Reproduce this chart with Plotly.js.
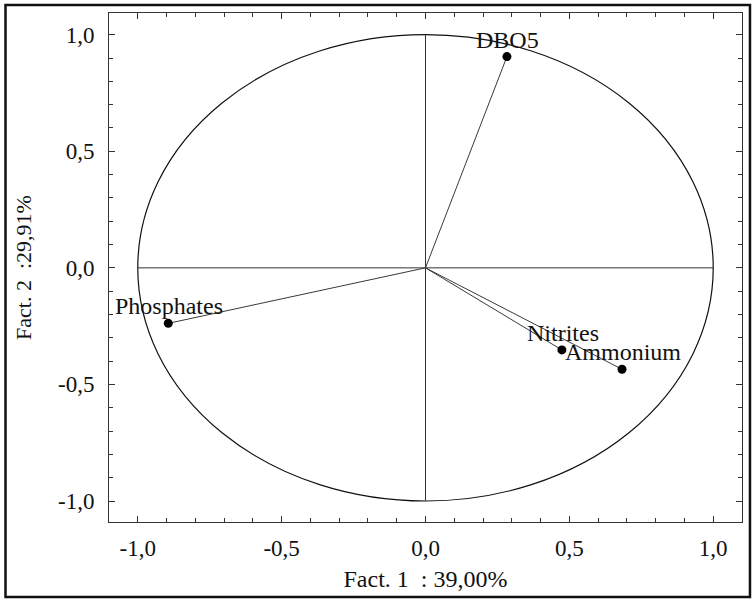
<!DOCTYPE html>
<html>
<head>
<meta charset="utf-8">
<script src="https://cdn.plot.ly/plotly-3.0.1.min.js"></script>
<style>
  html, body { margin: 0; padding: 0; background: #fff; }
  #chart { width: 755px; height: 602px; }
</style>
</head>
<body>
<div id="chart"></div>
<script>
// Variables of the correlation circle
var variables = ['DBO5', 'Phosphates', 'Nitrites', 'Ammonium'];
var fact1 = [0.283, -0.894, 0.474, 0.683];
var fact2 = [0.906, -0.238, -0.352, -0.435];

// Axis tick labels (comma decimal, hyphen minus)
var tickVals = [-1.0, -0.5, 0.0, 0.5, 1.0];
var tickText = ['-1,0', '-0,5', '0,0', '0,5', '1,0'];

var xTitle = 'Fact. 1\u00a0\u00a0: 39,00%';
var yTitle = 'Fact. 2\u00a0\u00a0:29,91%';

var serif = 'Liberation Serif, Times New Roman, serif';

// vectors from origin
var vx = [], vy = [];
for (var i = 0; i < variables.length; i++) {
  vx.push(0, fact1[i], null);
  vy.push(0, fact2[i], null);
}

var traces = [
  {
    x: vx, y: vy, mode: 'lines', type: 'scatter',
    line: {color: '#3a3a3a', width: 1},
    hoverinfo: 'skip', showlegend: false
  },
  {
    x: fact1, y: fact2, text: variables, mode: 'markers', type: 'scatter',
    marker: {color: '#000', size: 9},
    showlegend: false
  }
];

var labels = variables.map(function (name, i) {
  return {
    x: fact1[i], y: fact2[i], xref: 'x', yref: 'y',
    text: name, showarrow: false,
    xanchor: 'center', yanchor: 'bottom', yshift: 2, xshift: 1,
    font: {family: serif, size: 24, color: '#111'}
  };
});

var axisCommon = {
  tickmode: 'array',
  tickvals: tickVals,
  ticktext: tickText,
  ticks: 'inside',
  ticklen: 6,
  tickwidth: 1,
  tickcolor: '#333',
  minor: {dtick: 0.1, tick0: 0, ticks: 'inside', ticklen: 4, tickcolor: '#333', tickwidth: 1},
  showline: true,
  linecolor: '#333',
  linewidth: 1,
  mirror: 'ticks',
  showgrid: false,
  zeroline: false,
  tickfont: {family: serif, size: 23, color: '#111'},
  fixedrange: true
};

var layout = {
  width: 755, height: 602,
  margin: {l: 109, r: 13, t: 13, b: 80},
  paper_bgcolor: '#fff', plot_bgcolor: '#fff',
  xaxis: Object.assign({}, axisCommon, {
    range: [-1.1, 1.1],
    ticklabelstandoff: 5,
    title: {text: xTitle, font: {family: serif, size: 24, color: '#111'}, standoff: 10}
  }),
  yaxis: Object.assign({}, axisCommon, {
    range: [-1.09, 1.093],
    ticklabelstandoff: 9,
    title: {text: yTitle, font: {family: serif, size: 22, color: '#111'}, standoff: 20}
  }),
  annotations: labels,
  shapes: [
    {type: 'circle', xref: 'x', yref: 'y', x0: -1, x1: 1, y0: -1, y1: 1,
     line: {color: '#111', width: 1.2}},
    {type: 'line', xref: 'x', yref: 'y', x0: -1, x1: 1, y0: 0, y1: 0,
     line: {color: '#333', width: 1}},
    {type: 'line', xref: 'x', yref: 'y', x0: 0, x1: 0, y0: -1, y1: 1,
     line: {color: '#333', width: 1}},
    {type: 'rect', xref: 'paper', yref: 'paper', layer: 'above',
     x0: -0.1635, x1: 1.0126, y0: -0.1473, y1: 1.0157,
     line: {color: '#111', width: 2.5}}
  ]
};

Plotly.newPlot('chart', traces, layout, {displayModeBar: false, staticPlot: true});
</script>
</body>
</html>
